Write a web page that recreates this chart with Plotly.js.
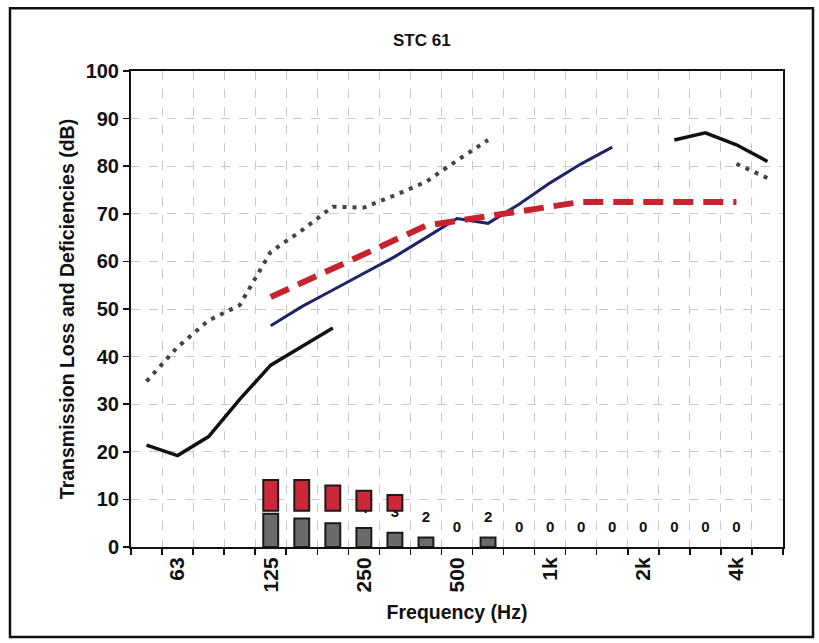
<!DOCTYPE html>
<html>
<head>
<meta charset="utf-8">
<script src="https://cdn.plot.ly/plotly-3.0.1.min.js"></script>
<style>html,body{margin:0;padding:0;background:#fff;}#chart{width:819px;height:643px;}</style>
</head>
<body>
<div id="chart"></div>
<script>
// 1/3-octave band categories
const bands = ['50','63','80','100','125','160','200','250','315','400','500','630','800','1k','1.25k','1.6k','2k','2.5k','3.15k','4k','5k'];
const tickLabels = ['63','125','250','500','1k','2k','4k'];

// Series (dB), null where the curve is not visible in the reference
const tlBlack   = [21.4,19.2,23.2,31,38.2,42,46,null,null,null,null,null,null,null,null,null,null,85.5,87,84.5,81];
const tlNavy    = [null,null,null,null,46.5,50.5,54,57.5,61,65,69,68,72,76.5,80.5,84,null,null,null,null,null];
const stcContour= [null,null,null,null,52.5,55.5,58.5,61.5,64.5,67.5,68.5,69.5,70.5,71.5,72.5,72.5,72.5,72.5,72.5,72.5,null];
const dottedCurve=[34.8,42,47.6,50.8,62,66.5,71.5,71.3,73.9,76.7,81.2,85.5,null,null,null,null,null,null,null,80.5,77.5];
const deficiencies=[null,null,null,null,7,6,5,4,3,2,0,2,0,0,0,0,0,0,0,0,null];
const redBarTop = [null,null,null,null,14.1,14.1,12.9,11.8,10.9,null,null,null,null,null,null,null,null,null,null,null,null];
const redBarBase = 7.6;

const xIdx = bands.map((b,i)=>i);
const tickVals = tickLabels.map(t=>bands.indexOf(t));
const FONT = 'Liberation Sans, Arial, Helvetica, sans-serif';

const traces = [
  {type:'bar', x:xIdx, y:deficiencies, width:0.48,
   marker:{color:'#6b6b6b', line:{color:'#1a1a1a', width:deficiencies.map(v=>v>0?2:0)}}, showlegend:false, hoverinfo:'skip'},
  {type:'scatter', mode:'markers+text', x:xIdx, y:deficiencies,
   texttemplate:'%{y}', textposition:'top center',
   textfont:{family:FONT, size:15, color:'#111', weight:'bold'},
   marker:{size:17, color:'rgba(0,0,0,0)'}, showlegend:false, hoverinfo:'skip', cliponaxis:false},
  {type:'scatter', mode:'lines', x:xIdx, y:dottedCurve,
   line:{color:'#444', width:4, dash:'4px,6px'}, connectgaps:false, showlegend:false},
  {type:'scatter', mode:'lines', x:xIdx, y:tlBlack,
   line:{color:'#111', width:3.5}, connectgaps:false, showlegend:false},
  {type:'scatter', mode:'lines', x:xIdx, y:tlNavy,
   line:{color:'#1c2566', width:3}, connectgaps:false, showlegend:false},
  {type:'scatter', mode:'lines', x:xIdx, y:stcContour,
   line:{color:'#c8222f', width:6, dash:'20px,10px'}, connectgaps:false, showlegend:false},
  {type:'bar', x:xIdx, y:redBarTop.map(v=>v==null?null:v-redBarBase), base:redBarBase, width:0.48,
   yaxis:'y2', marker:{color:'#cc283a', line:{color:'#1a1a1a', width:2}}, showlegend:false, hoverinfo:'skip'}
];

const layout = {
  width:819, height:643,
  margin:{l:131, r:36, t:71, b:96},
  paper_bgcolor:'#fff', plot_bgcolor:'#fff',
  barmode:'overlay',
  font:{family:FONT, color:'#111'},
  title:{text:'STC 61', font:{family:FONT, size:17, weight:'bold', color:'#111'},
         xref:'container', x:0.515, xanchor:'center', yref:'container', y:0.938, yanchor:'middle'},
  xaxis:{range:[-0.5, 20.5], tickmode:'array', tickvals:tickVals, ticktext:tickLabels,
         tickangle:-90, ticks:'', showgrid:false, zeroline:false,
         tickfont:{family:FONT, size:21, weight:'bold', color:'#111'},
         showline:true, linecolor:'#111', linewidth:2, mirror:true,
         minor:{tick0:0.5, dtick:1, ticks:'outside', ticklen:6, tickcolor:'#111', tickwidth:1.5,
                showgrid:true, gridcolor:'#c8c8c8', griddash:'dash', gridwidth:1},
         title:{text:'Frequency (Hz)', font:{family:FONT, size:19.5, weight:'bold', color:'#111'}, standoff:14}},
  yaxis:{range:[0,100], dtick:10, tick0:0, ticks:'outside', ticklen:6, tickcolor:'#111', tickwidth:1.5,
         showgrid:true, gridcolor:'#c8c8c8', griddash:'dash', gridwidth:1, zeroline:false,
         tickfont:{family:FONT, size:20, weight:'bold', color:'#111'},
         showline:true, linecolor:'#111', linewidth:2, mirror:true,
         title:{text:'Transmission Loss and Deficiencies (dB)', font:{family:FONT, size:19.5, weight:'bold', color:'#111'}, standoff:6}},
  yaxis2:{range:[0,100], overlaying:'y', visible:false},
  shapes:[{type:'rect', xref:'paper', yref:'paper', x0:-0.1856, x1:1.046, y0:-0.189, y1:1.132,
           line:{color:'#111', width:2.5}, fillcolor:'rgba(0,0,0,0)', layer:'below'}]
};

Plotly.newPlot('chart', traces, layout, {displayModeBar:false, staticPlot:true});
</script>
</body>
</html>
